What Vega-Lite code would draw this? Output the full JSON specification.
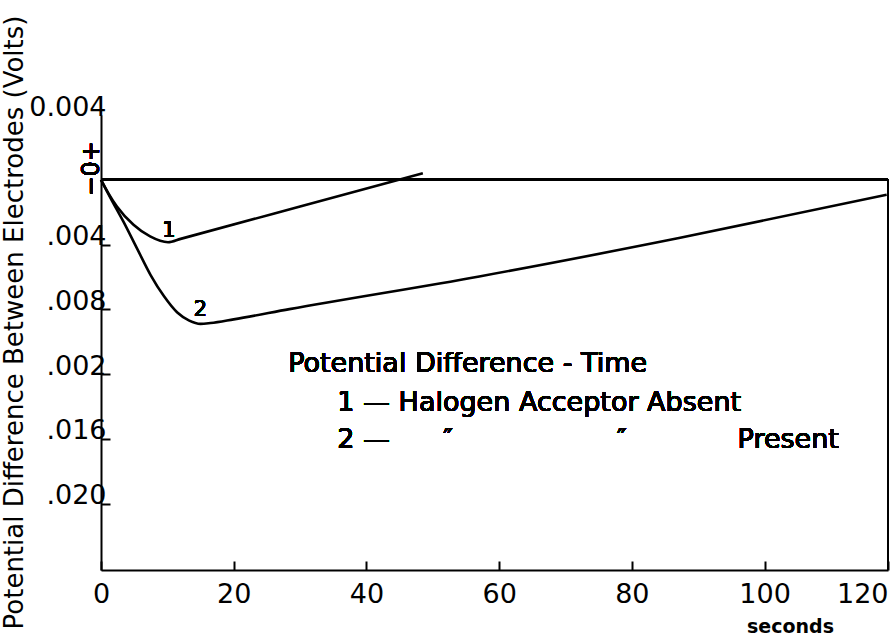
{
  "$schema": "https://vega.github.io/schema/vega-lite/v6.json",
  "width": 787,
  "height": 455,
  "autosize": "none",
  "padding": {"left": 101, "top": 115, "right": 5, "bottom": 72},
  "background": "white",
  "config": {
    "view": {"stroke": null},
    "font": "DejaVu Sans",
    "axis": {
      "grid": false,
      "domainColor": "black",
      "domainWidth": 2,
      "tickColor": "black",
      "tickWidth": 2,
      "labelColor": "black",
      "titleColor": "black",
      "labelFont": "DejaVu Sans",
      "titleFont": "DejaVu Sans"
    }
  },
  "data": {
    "values": [
      {"t": 0, "v": 0, "curve": "1"},
      {"t": 1.1, "v": -0.00082, "curve": "1"},
      {"t": 2.4, "v": -0.00165, "curve": "1"},
      {"t": 4.9, "v": -0.00278, "curve": "1"},
      {"t": 7.4, "v": -0.0035, "curve": "1"},
      {"t": 10.1, "v": -0.00386, "curve": "1"},
      {"t": 12, "v": -0.00365, "curve": "1"},
      {"t": 30, "v": -0.00165, "curve": "1"},
      {"t": 48.5, "v": 0.00041, "curve": "1"},
      {"t": 0, "v": 0, "curve": "2"},
      {"t": 1.4, "v": -0.0011, "curve": "2"},
      {"t": 3.4, "v": -0.0026, "curve": "2"},
      {"t": 5.5, "v": -0.0043, "curve": "2"},
      {"t": 7.5, "v": -0.0059, "curve": "2"},
      {"t": 9.5, "v": -0.0072, "curve": "2"},
      {"t": 11.5, "v": -0.0082, "curve": "2"},
      {"t": 13.3, "v": -0.0087, "curve": "2"},
      {"t": 15, "v": -0.0089, "curve": "2"},
      {"t": 16.5, "v": -0.00885, "curve": "2"},
      {"t": 20, "v": -0.00862, "curve": "2"},
      {"t": 28.4, "v": -0.00799, "curve": "2"},
      {"t": 57, "v": -0.00597, "curve": "2"},
      {"t": 87.1, "v": -0.0036, "curve": "2"},
      {"t": 118.4, "v": -0.00093, "curve": "2"}
    ]
  },
  "encoding": {
    "x": {
      "field": "t",
      "type": "quantitative",
      "scale": {"domain": [0, 118.6], "nice": false, "zero": false},
      "axis": {
        "title": "seconds",
        "titleFontSize": 19,
        "titleFontWeight": "bold",
        "titleX": 689,
        "titleY": 56,
        "titleBaseline": "middle",
        "titleAlign": "center",
        "values": [0, 20, 40, 60, 80, 100, 118.6],
        "labelExpr": "datum.value > 110 ? '120' : datum.label",
        "labelAlign": {"condition": {"test": "datum.value > 110", "value": "right"}, "value": "center"},
        "labelFontSize": 27,
        "labelPadding": 33,
        "labelBaseline": "middle",
        "tickSize": -9
      }
    },
    "y": {
      "field": "v",
      "type": "quantitative",
      "scale": {"domain": [-0.0241, 0.004], "nice": false, "zero": false},
      "axis": {
        "title": "Potential Difference Between Electrodes (Volts)",
        "titleFontSize": 26,
        "titleFontWeight": "normal",
        "titleAngle": 270,
        "titleX": -87,
        "titleY": 207,
        "titleBaseline": "middle",
        "titleAlign": "center",
        "values": [0.004, 0, -0.004, -0.008, -0.012, -0.016, -0.02],
        "labelExpr": "datum.value > 0.003 ? '0.004' : datum.value > -0.001 ? '' : datum.value > -0.005 ? '.004' : datum.value > -0.009 ? '.008' : datum.value > -0.013 ? '.002' : datum.value > -0.017 ? '.016' : '.020'",
        "labelFontSize": 27,
        "labelAlign": "right",
        "labelBaseline": "alphabetic",
        "labelPadding": 4,
        "tickSize": -9,
        "tickOpacity": {"condition": {"test": "datum.value > -0.001", "value": 0}, "value": 1}
      }
    }
  },
  "layer": [
    {
      "mark": {"type": "rule", "color": "black", "strokeWidth": 2},
      "encoding": {"x": null, "y": {"datum": 0, "type": "quantitative"}}
    },
    {
      "mark": {"type": "rule", "color": "black", "strokeWidth": 2},
      "encoding": {
        "x": {"datum": 118.6, "type": "quantitative"},
        "y": {"datum": 0, "type": "quantitative"},
        "y2": {"datum": -0.0241}
      }
    },
    {
      "mark": {"type": "line", "color": "black", "strokeWidth": 2.6, "interpolate": "monotone"},
      "encoding": {"detail": {"field": "curve"}}
    },
    {
      "mark": {"type": "text", "fontSize": 21, "color": "black", "align": "center", "baseline": "middle"},
      "encoding": {
        "x": {"datum": 10.24, "type": "quantitative"},
        "y": {"datum": -0.00314, "type": "quantitative"},
        "text": {"value": "1"}
      }
    },
    {
      "mark": {"type": "text", "fontSize": 21, "color": "black", "align": "center", "baseline": "middle"},
      "encoding": {
        "x": {"datum": 15, "type": "quantitative"},
        "y": {"datum": -0.00806, "type": "quantitative"},
        "text": {"value": "2"}
      }
    },
    {
      "mark": {"type": "text", "fontSize": 24, "color": "black", "align": "center", "baseline": "middle", "angle": 270, "xOffset": -9, "yOffset": -11},
      "encoding": {
        "x": {"datum": 0, "type": "quantitative"},
        "y": {"datum": 0, "type": "quantitative"},
        "text": {"value": "−0+"}
      }
    },
    {
      "mark": {"type": "text", "fontSize": 27, "color": "black", "align": "left", "baseline": "alphabetic"},
      "encoding": {
        "x": {"datum": 28.2, "type": "quantitative"},
        "y": {"datum": -0.01185, "type": "quantitative"},
        "text": {"value": "Potential Difference - Time"}
      }
    },
    {
      "mark": {"type": "text", "fontSize": 27, "color": "black", "align": "left", "baseline": "alphabetic"},
      "encoding": {
        "x": {"datum": 35.6, "type": "quantitative"},
        "y": {"datum": -0.0143, "type": "quantitative"},
        "text": {"value": "1 — Halogen Acceptor Absent"}
      }
    },
    {
      "mark": {"type": "text", "fontSize": 27, "color": "black", "align": "left", "baseline": "alphabetic"},
      "encoding": {
        "x": {"datum": 35.6, "type": "quantitative"},
        "y": {"datum": -0.01655, "type": "quantitative"},
        "text": {"value": "2 —"}
      }
    },
    {
      "mark": {"type": "text", "fontSize": 27, "color": "black", "align": "center", "baseline": "alphabetic"},
      "encoding": {
        "x": {"datum": 52.3, "type": "quantitative"},
        "y": {"datum": -0.01655, "type": "quantitative"},
        "text": {"value": "″"}
      }
    },
    {
      "mark": {"type": "text", "fontSize": 27, "color": "black", "align": "center", "baseline": "alphabetic"},
      "encoding": {
        "x": {"datum": 78.5, "type": "quantitative"},
        "y": {"datum": -0.01655, "type": "quantitative"},
        "text": {"value": "″"}
      }
    },
    {
      "mark": {"type": "text", "fontSize": 27, "color": "black", "align": "right", "baseline": "alphabetic"},
      "encoding": {
        "x": {"datum": 111.2, "type": "quantitative"},
        "y": {"datum": -0.01655, "type": "quantitative"},
        "text": {"value": "Present"}
      }
    }
  ]
}
